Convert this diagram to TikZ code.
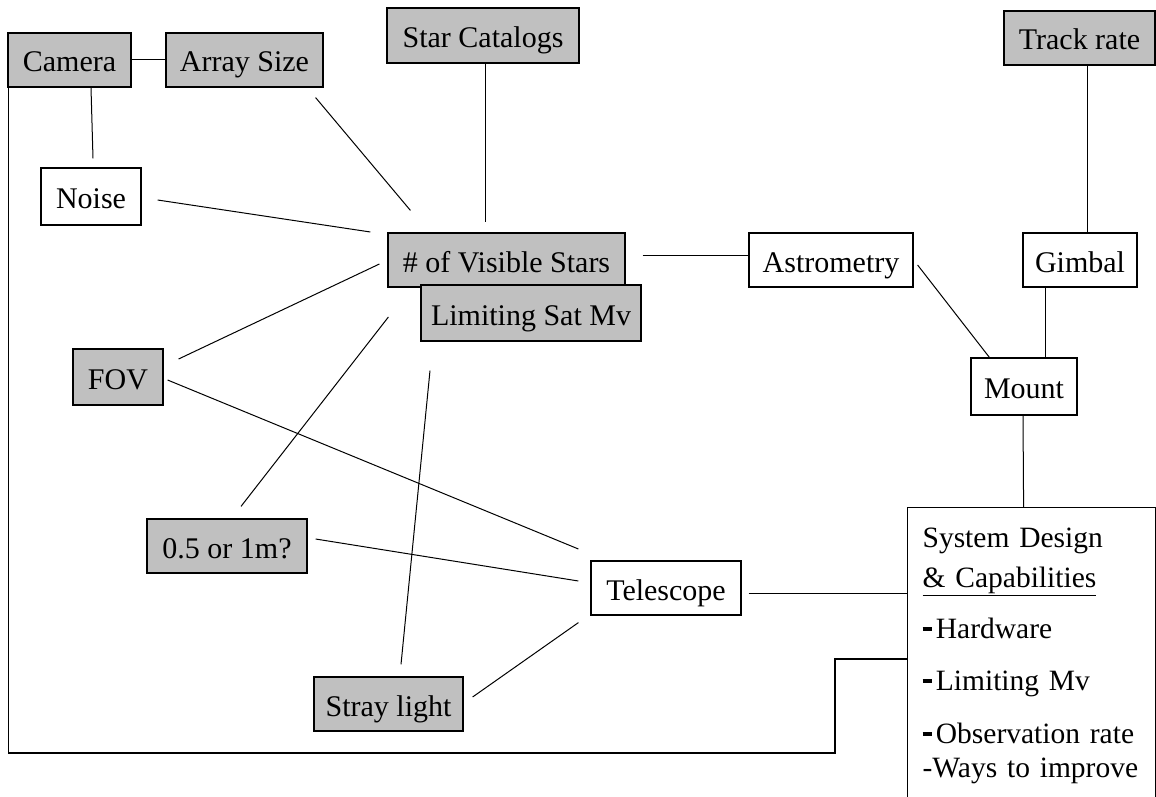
\documentclass[tikz,border=0pt]{standalone}
\usepackage{fontspec}
\setmainfont{Liberation Serif}
\usetikzlibrary{calc}
\definecolor{boxgrey}{HTML}{C0C0C0}
\newcommand{\itemdash}{\rule[0.25em]{0.33em}{0.12em}\hspace{0.12em}}

\begin{document}
\begin{tikzpicture}[x=1pt, y=-1pt,
    plainbox/.style={draw, line width=1.2pt, inner sep=0pt},
    whitebox/.style={plainbox, minimum height=54pt, text height=27pt, text depth=3pt,
      font=\fontsize{30}{36}\selectfont},
    greybox/.style={whitebox, fill=boxgrey},
    link/.style={line width=1pt},
    loopline/.style={line width=1.4pt}]
    \useasboundingbox (0,0) rectangle (1156,797);
    \clip (0,0) rectangle (1156,797);
    \node[greybox, minimum width=123pt] (cam) at (69.5,60) {Camera};
    \node[greybox, minimum width=157pt] (arr) at (244.5,60) {Array Size};
    \node[greybox, minimum width=192pt, minimum height=55pt] (cat) at (483,35.5) {Star Catalogs};
    \node[greybox, minimum width=151pt] (trk) at (1079.5,38) {Track rate};
    \node[whitebox, minimum width=100pt, minimum height=57pt] (noi) at (91,196.5) {Noise};
    \node[greybox, minimum width=237pt] (vis) at (506.5,260) {\# of Visible Stars};
    \node[greybox, minimum width=220pt, minimum height=56pt] (lim) at (531,313) {Limiting Sat Mv};
    \node[whitebox, minimum width=164pt] (ast) at (831,260) {Astrometry};
    \node[whitebox, minimum width=114pt] (gim) at (1080,260) {Gimbal};
    \node[whitebox, minimum width=106pt, minimum height=57pt] (mnt) at (1024,386.5) {Mount};
    \node[greybox, minimum width=90pt, minimum height=56pt] (fov) at (118,377) {FOV};
    \node[greybox, minimum width=160pt] (ap) at (227,546) {0.5 or 1m?};
    \node[whitebox, minimum width=150pt] (tel) at (666,588) {Telescope};
    \node[greybox, minimum width=149pt] (str) at (388.5,704) {Stray light};
    \node[plainbox, anchor=north west, text width=218pt, inner xsep=15pt, inner ysep=20pt,
      align=left, font=\fontsize{29.5}{40}\selectfont] (sys) at (907,507)
      {System Design\\
       \underline{\& Capabilities}\\[11pt]
       \itemdash Hardware\\[12pt]
       \itemdash Limiting Mv\\[13pt]
       \itemdash Observation rate\\[-6pt]
       -Ways to improve};
    % camera corner
    \draw[link] (cam.east) -- (arr.west);
    \draw[link] ($(cam.south)+(21.5,0)$) -- ($(noi.north)+(2,-9)$);
    % lines into the star count
    \draw[link] ($(arr.south east)+(-8,10)$) -- ($(vis.north west)+(23,-22)$);
    \draw[link] ($(noi.east)+(16,3.5)$) -- ($(vis.west)+(-17,-28)$);
    \draw[link] ($(cat.south)+(2,0)$) -- ($(vis.north)+(-21.5,-10)$);
    \draw[link] ($(fov.east)+(15,-18)$) -- ($(vis.west)+(-8,4)$);
    \draw[link] ($(ap.north)+(14,-12)$) -- ($(lim.west)+(-32,4)$);
    \draw[link] ($(str.north)+(12.5,-12)$) -- ($(lim.south)+(-101,29)$);
    % right side
    \draw[link] ($(vis.east)+(17,-5)$) -- ($(ast.west)+(0,-5)$);
    \draw[link] ($(ast.east)+(4,5)$) -- ($(mnt.north west)+(19,0)$);
    \draw[link] ($(trk.south)+(7.5,0)$) -- ($(gim.north)+(7,0)$);
    \draw[link] ($(gim.south)+(-35,0)$) -- ($(mnt.north)+(21,0)$);
    \draw[link] ($(mnt.south)+(-1,0)$) -- ($(sys.north)+(-8,0)$);
    % telescope
    \draw[link] ($(fov.east)+(4,3)$) -- ($(tel.west)+(-12,-39)$);
    \draw[link] ($(ap.east)+(8,-7)$) -- ($(tel.west)+(-12,-7)$);
    \draw[link] ($(str.east)+(9,-7)$) -- ($(tel.south west)+(-12,7)$);
    \draw[link] ($(tel.east)+(7,5)$) -- ($(sys.north west)+(0,86)$);
    % outer loop
    \draw[loopline] ($(cam.south west)+(1,0)$) |- ($(sys.north west)+(-72,246)$)
      |- ($(sys.north west)+(0,152)$);
\end{tikzpicture}
\end{document}
